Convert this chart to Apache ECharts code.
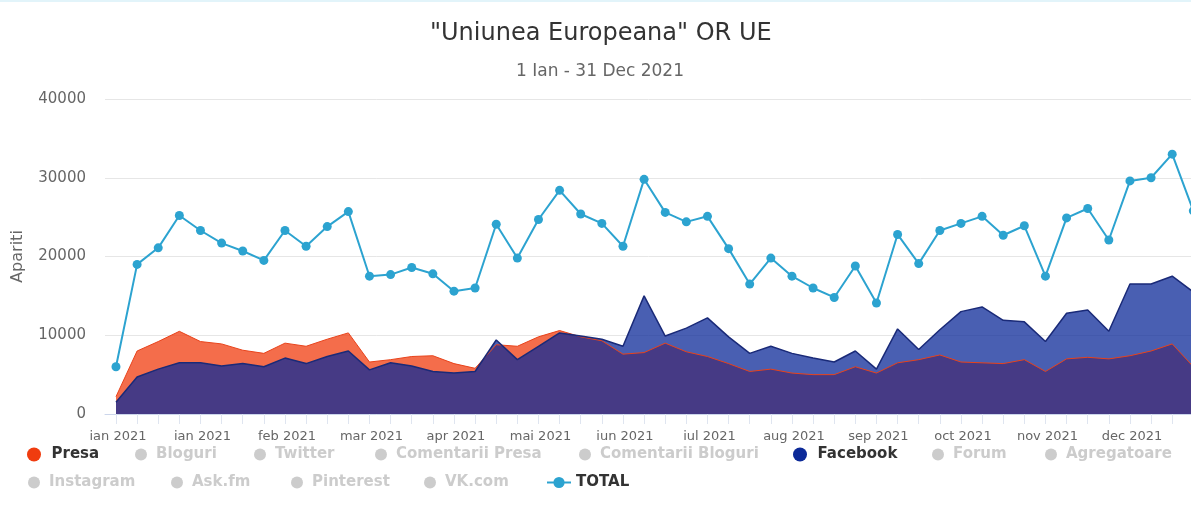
<!DOCTYPE html>
<html><head><meta charset="utf-8">
<script src="https://cdn.jsdelivr.net/npm/echarts@6/dist/echarts.min.js"></script>
<style>html,body{margin:0;padding:0;background:#fff;}#c{width:1191px;height:516px;}#topline{position:absolute;left:0;top:0;width:1191px;height:2px;background:#e2f4fa;z-index:5;}</style>
</head><body><div id="topline"></div><div id="c"></div>
<script>
// weekly buckets, 2021
const categories = ['01.01','08.01','15.01','22.01','29.01','05.02','12.02','19.02','26.02','05.03','12.03','19.03','26.03',
  '02.04','09.04','16.04','23.04','30.04','07.05','14.05','21.05','28.05','04.06','11.06','18.06','25.06',
  '02.07','09.07','16.07','23.07','30.07','06.08','13.08','20.08','27.08','03.09','10.09','17.09','24.09',
  '01.10','08.10','15.10','22.10','29.10','05.11','12.11','19.11','26.11','03.12','10.12','17.12','24.12'];
const tickLabels = ['ian 2021','ian 2021','feb 2021','mar 2021','apr 2021','mai 2021','iun 2021','iul 2021','aug 2021','sep 2021','oct 2021','nov 2021','dec 2021'];
const presa = [2200,8000,9200,10500,9200,8900,8100,7700,9000,8600,9500,10300,6600,6900,7300,7400,6400,5800,8800,8600,9800,10600,9800,9300,7600,7800,
  9000,7900,7300,6400,5400,5700,5200,5000,5000,6000,5200,6500,6900,7500,6600,6500,6400,6900,5400,7000,7200,7000,7400,8000,8900,6000];
const facebook = [1500,4700,5700,6500,6500,6100,6400,6000,7100,6400,7300,8000,5600,6500,6100,5400,5200,5400,9400,6900,8600,10300,9900,9500,8600,15000,
  9900,10900,12200,9800,7700,8600,7700,7100,6600,8000,5700,10800,8200,10700,13000,13600,11900,11700,9200,12800,13200,10500,16500,16500,17500,15500];
const total = [6000,19000,21100,25200,23300,21700,20700,19500,23300,21300,23800,25700,17500,17700,18600,17800,15600,16000,24100,19800,24700,28400,25400,24200,21300,29800,
  25600,24400,25100,21000,16500,19800,17500,16000,14800,18800,14100,22800,19100,23300,24200,25100,22700,23900,17500,24900,26100,22100,29600,30000,33000,25800];
const yTicks = [0,10000,20000,30000,40000];
const hiddenNames = ['Bloguri','Twitter','Comentarii Presa','Comentarii Bloguri','Forum','Agregatoare','Instagram','Ask.fm','Pinterest','VK.com'];
const legendRow1 = ['Presa','Bloguri','Twitter','Comentarii Presa','Comentarii Bloguri','Facebook','Forum','Agregatoare'];
const legendRow2 = ['Instagram','Ask.fm','Pinterest','VK.com','TOTAL'];

// layout (legend icon centre positions)
const row1X = [34,141,260,381,585,800,938,1051];
const row2X = [34,177,297,430,558];

const pairs = arr => arr.map((v, i) => [i, v]);
const selected = {};
hiddenNames.forEach(n => selected[n] = false);
const legends = [];
function addRow(names, xs, top) {
  names.forEach((n, k) => {
    const hidden = hiddenNames.indexOf(n) >= 0;
    const isTotal = n === 'TOTAL';
    const h = hidden ? 12 : 14;
    legends.push({
      orient: 'horizontal', left: isTotal ? xs[k] - 12 : xs[k] - h / 2, top: top, padding: 0,
      itemWidth: isTotal ? 24 : (hidden ? 20 : 25), itemHeight: h,
      inactiveColor: '#cccccc', selected: selected,
      textStyle: {fontFamily: 'DejaVu Sans', fontSize: 15, fontWeight: 'bold', color: '#333333'},
      data: [isTotal ? {name: n} : {name: n, icon: 'circle'}]
    });
  });
}
addRow(legendRow1, row1X, 447);
addRow(legendRow2, row2X, 475);

const chart = echarts.init(document.getElementById('c'), null, {renderer: 'canvas'});
const series = [
  {name: 'Presa', type: 'line', data: pairs(presa), symbol: 'none', color: '#f03c0f',
   lineStyle: {width: 1, color: '#e8431b'}, areaStyle: {color: '#f03c0f', opacity: 0.75}, z: 2},
  {name: 'Facebook', type: 'line', data: pairs(facebook), symbol: 'none', color: '#0c2a98',
   lineStyle: {width: 1.5, color: '#1a2a78'}, areaStyle: {color: '#0c2a98', opacity: 0.75}, z: 2},
];
hiddenNames.forEach(n => series.push({name: n, type: 'line', data: [], color: '#cccccc'}));
series.push({name: 'TOTAL', type: 'line', data: pairs(total), color: '#2ca3d0', symbol: 'circle', symbolSize: 9,
  lineStyle: {width: 2, color: '#2ca3d0'}, itemStyle: {color: '#2ca3d0'}, z: 4});

chart.setOption({
  animation: false,
  backgroundColor: '#ffffff',
  title: [
    {text: '"Uniunea Europeana" OR UE', left: 425, top: 17,
     textStyle: {fontFamily: 'DejaVu Sans', fontSize: 24, fontWeight: 'normal', color: '#333333'}},
    {text: '1 Ian - 31 Dec 2021', left: 511, top: 58,
     textStyle: {fontFamily: 'DejaVu Sans', fontSize: 17, fontWeight: 'normal', color: '#666666'}}
  ],
  legend: legends,
  grid: {left: 105, right: -15, top: 99, bottom: 102, containLabel: false, outerBoundsMode: 'none'},
  xAxis: {
    type: 'value', min: -0.52, max: 51.6,
    axisLine: {show: true, lineStyle: {color: '#ccd6eb', width: 1}},
    axisTick: {show: true, length: 10, lineStyle: {color: '#dfe5f0'}, customValues: categories.map((c, i) => i)},
    axisLabel: {customValues: tickLabels.map((t, i) => i * 4), formatter: v => tickLabels[Math.round(v / 4)],
      color: '#666666', fontFamily: 'DejaVu Sans', fontSize: 13, margin: 16, padding: [0, 0, 0, 4]},
    splitLine: {show: false}
  },
  yAxis: {
    type: 'value', min: yTicks[0], max: yTicks[yTicks.length - 1], interval: 10000,
    name: 'Apariti', nameLocation: 'middle', nameGap: 79, nameRotate: 90,
    nameTextStyle: {color: '#666666', fontFamily: 'DejaVu Sans', fontSize: 16},
    axisLine: {show: false}, axisTick: {show: false},
    axisLabel: {color: '#666666', fontFamily: 'DejaVu Sans', fontSize: 15, margin: 19, formatter: v => String(v)},
    splitLine: {lineStyle: {color: '#e6e6e6', width: 1}}
  },
  series: series
});
</script></body></html>
